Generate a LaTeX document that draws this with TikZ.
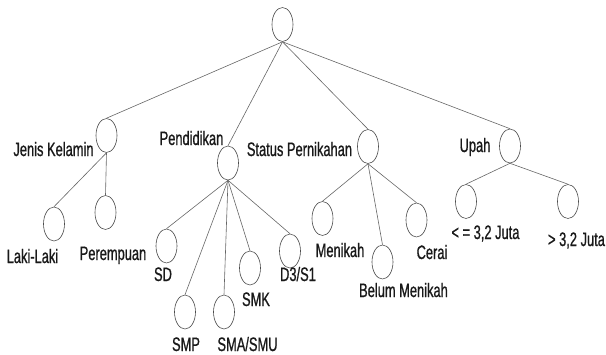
\documentclass[tikz,border=0pt]{standalone}
\usepackage{fontspec}
\setmainfont{Liberation Sans}[FakeStretch=0.66,FakeBold=0.8]
\usetikzlibrary{shapes.geometric}

\begin{document}
\begin{tikzpicture}[x=1pt,y=-1pt,
  leaf/.style={ellipse,draw=black!70,line width=0.6pt,inner sep=0pt,minimum width=21pt,minimum height=34pt},
  edge/.style={draw=black!60,line width=0.6pt},
  lbl/.style={anchor=base,inner sep=0pt,text=black!90,font=\fontsize{19.5}{23}\selectfont}]
\useasboundingbox (0,0) rectangle (606,354);
% nodes of the tree
\foreach \n/\x/\y in %
{root/282.5/24.5,jk/106.5/135.5,pend/228/163,stat/368/146.5,upah/510/146,
 laki/54/224,perem/105.5/212.5,sd/166.5/246,smp/185/312,sma/224/312,smk/250/268,d3/290/251,
 menikah/322.5/218.5,belum/382.5/262,cerai/416.5/220,le/466/201.5,gt/568/201.5} {
   \node[leaf] (\n) at (\x,\y) {};
}
\foreach \a/\b in %
{root/jk,root/pend,root/stat,root/upah,jk/laki,jk/perem,pend/sd,pend/smp,pend/sma,pend/smk,pend/d3,
 stat/menikah,stat/belum,stat/cerai,upah/le,upah/gt} {
   \draw[edge] (\a.south) -- (\b.north);
}
% labels
\foreach \n/\x/\y/\t in %
{jk/53.5/156/{Jenis Kelamin},pend/191.5/145/{Pendidikan},stat/299.5/156/{Status Pernikahan},upah/475/152/{Upah},
 laki/32.5/263/{Laki-Laki},perem/113/260/{Perempuan},sd/163/281/{SD},smp/186/351/{SMP},sma/247.5/351/{SMA/SMU},
 smk/256/306/{SMK},d3/298/281/{D3/S1},menikah/340/257/{Menikah},belum/403.5/297/{Belum Menikah},
 cerai/432/259/{Cerai},le/485.5/239/{< = 3,2 Juta},gt/576.5/246/{> 3,2 Juta}} {
   \node[lbl] (lbl-\n) at (\x,\y) {\t};
}
\end{tikzpicture}
\end{document}
